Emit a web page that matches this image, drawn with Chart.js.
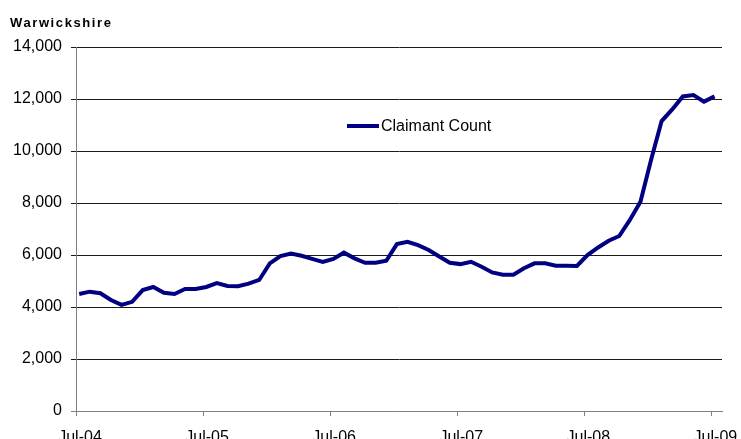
<!DOCTYPE html>
<html>
<head>
<meta charset="utf-8">
<script src="https://cdn.jsdelivr.net/npm/chart.js@4/dist/chart.umd.min.js"></script>
<style>
  html, body { margin: 0; padding: 0; background: #fff; }
  #wrap { width: 741px; height: 439px; }
</style>
</head>
<body>
<div id="wrap"><canvas id="grafico" width="741" height="439"></canvas></div>
<script>
// claimant count, monthly from Jul-04 to Jul-09
var titulo = "Warwickshire";
var serieNombre = "Claimant Count";
var valores = [
    4500, 4590, 4530, 4270, 4080, 4200, 4650, 4770, 4550, 4500, 4690, 4690,
    4770, 4920, 4810, 4800, 4900, 5040, 5680, 5960, 6060, 5970, 5850, 5730,
    5850, 6090, 5870, 5700, 5700, 5780, 6420, 6510, 6380, 6190, 5940, 5700,
    5650, 5740, 5550, 5330, 5240, 5240, 5490, 5680, 5680, 5590, 5590, 5580,
    6000, 6290, 6550, 6730, 7350, 8050, 9650, 11150, 11600, 12100, 12150, 11900,
    12100
];
var etiquetasX = ["Jul-04", "Jul-05", "Jul-06", "Jul-07", "Jul-08", "Jul-09"];
var mesOffset = 0.3; // points sit a little after the 1st of the month

var puntos = valores.map(function (v, i) {
    return { x: i + mesOffset, y: v };
});

var fuente = "'Liberation Sans', Arial, sans-serif";

var extras = {
    id: 'extras',
    afterDraw: function (chart) {
        var ctx = chart.ctx;
        ctx.save();
        // title
        ctx.fillStyle = '#000';
        ctx.font = "bold 13px " + fuente;
        ctx.letterSpacing = '1.6px';
        ctx.textBaseline = 'alphabetic';
        ctx.fillText(titulo, 10, 27);
        ctx.letterSpacing = '0px';
        // legend inside plot
        var ds = chart.data.datasets[0];
        ctx.strokeStyle = ds.borderColor;
        ctx.lineWidth = 4;
        ctx.beginPath();
        ctx.moveTo(347, 126);
        ctx.lineTo(379, 126);
        ctx.stroke();
        ctx.font = "16px " + fuente;
        ctx.textBaseline = 'middle';
        ctx.fillText(ds.label, 381, 127);
        ctx.restore();
    }
};

var ctx = document.getElementById('grafico').getContext('2d');
new Chart(ctx, {
    type: 'line',
    data: {
        datasets: [{
            label: serieNombre,
            data: puntos,
            borderColor: '#000080',
            borderWidth: 4,
            pointRadius: 0,
            tension: 0,
            fill: false
        }]
    },
    options: {
        responsive: false,
        animation: false,
        layout: {
            padding: { left: 0, top: 47, right: 19, bottom: 0 }
        },
        plugins: {
            legend: { display: false },
            tooltip: { enabled: false }
        },
        scales: {
            x: {
                type: 'linear',
                min: 0,
                max: 61,
                afterFit: function (scale) {
                    scale.height = 28;
                    scale.paddingLeft = 0;
                    scale.paddingRight = 0;
                },
                border: { color: '#808080', width: 1 },
                grid: {
                    drawOnChartArea: false,
                    drawTicks: true,
                    tickLength: 5,
                    color: '#808080'
                },
                ticks: {
                    stepSize: 12,
                    includeBounds: false,
                    autoSkip: false,
                    maxRotation: 0,
                    padding: 12,
                    labelOffset: 4,
                    color: '#000',
                    font: { family: fuente, size: 16 },
                    callback: function (v) {
                        var k = v / 12;
                        return Number.isInteger(k) ? etiquetasX[k] : '';
                    }
                }
            },
            y: {
                min: 0,
                max: 14000,
                afterFit: function (scale) { scale.width = 76; },
                border: { color: '#808080', width: 1 },
                grid: {
                    color: function (c) {
                        return c.tick && c.tick.value === 0 ? '#808080' : '#1a1a1a';
                    },
                    lineWidth: 1,
                    drawTicks: true,
                    tickLength: 5
                },
                ticks: {
                    stepSize: 2000,
                    padding: 9,
                    color: '#000',
                    font: { family: fuente, size: 16 },
                    callback: function (v) { return v.toLocaleString('en-US'); }
                }
            }
        }
    },
    plugins: [extras]
});
</script>
</body>
</html>
